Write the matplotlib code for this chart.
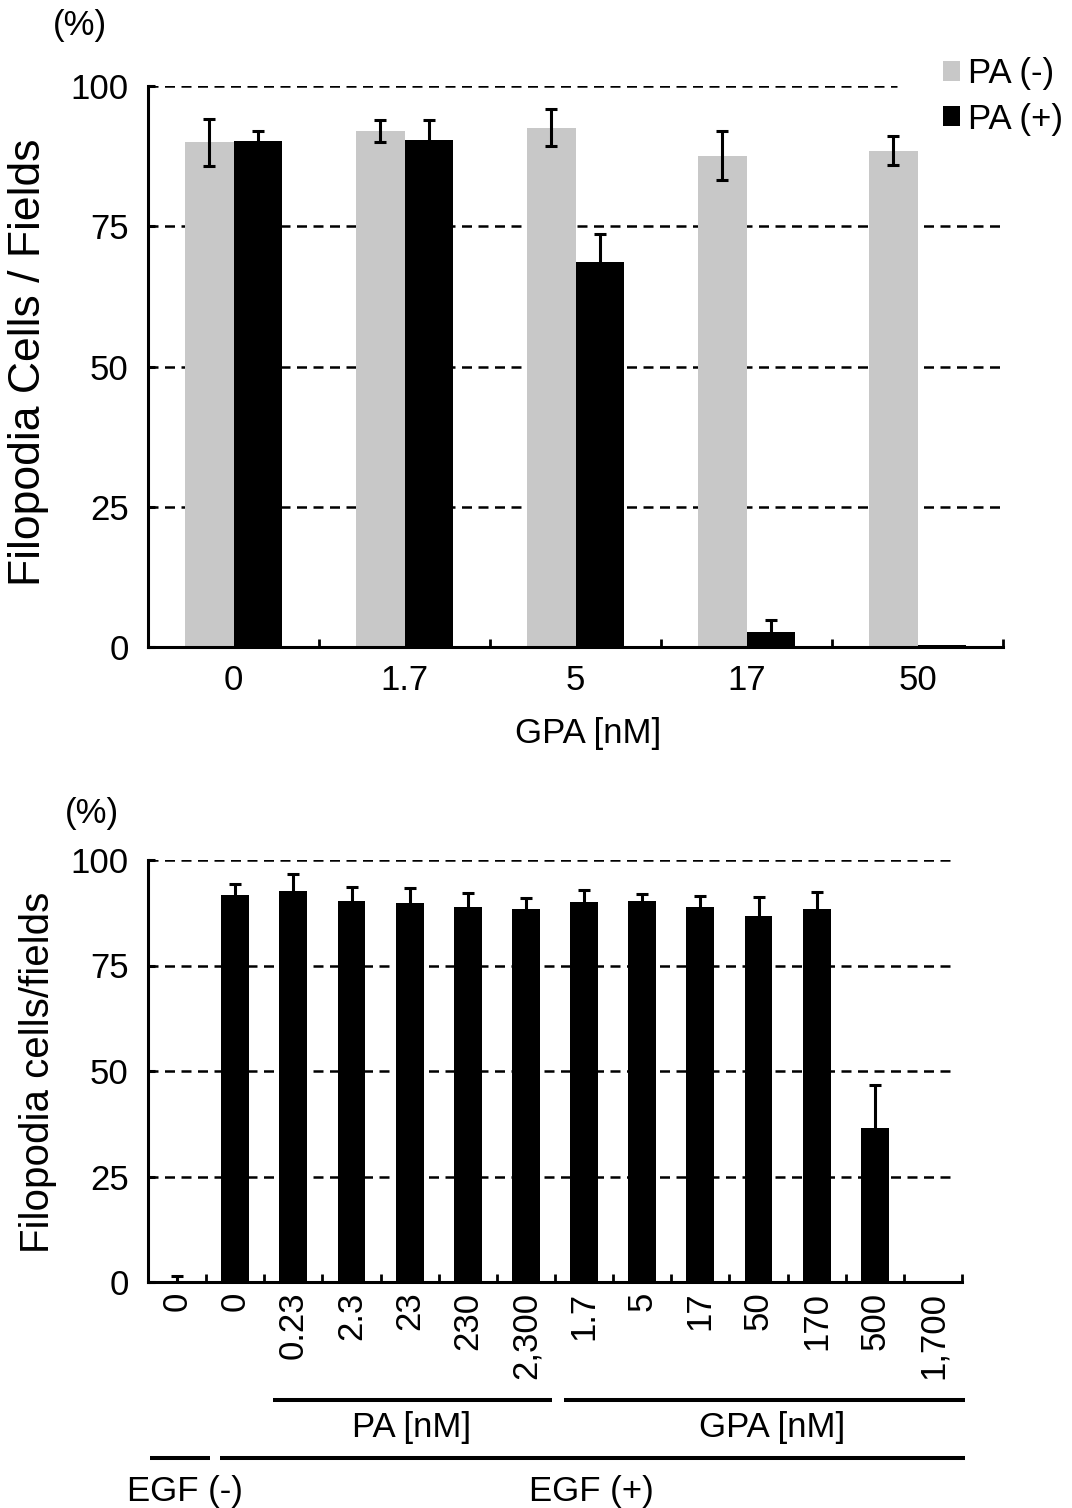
import matplotlib
matplotlib.use("Agg")
import matplotlib.pyplot as plt
from matplotlib.patches import Patch
from matplotlib.lines import Line2D

plt.rcParams['font.family'] = ['Liberation Sans', 'DejaVu Sans']

# ---------------- data ----------------
top_categories = ['0', '1.7', '5', '17', '50']
pa_minus = [90.0, 92.0, 92.6, 87.6, 88.5]
pa_minus_err = [4.2, 1.9, 3.3, 4.3, 2.5]
pa_plus = [90.2, 90.4, 68.7, 2.6, 0.3]
pa_plus_err = [1.8, 3.5, 5.0, 2.2, 0.0]

bottom_categories = ['0', '0', '0.23', '2.3', '23', '230', '2,300',
                     '1.7', '5', '17', '50', '170', '500', '1,700']
bottom_values = [0.3, 91.7, 92.7, 90.4, 89.7, 88.8, 88.3,
                 90.1, 90.4, 88.8, 86.8, 88.4, 36.5, 0.2]
bottom_err = [1.2, 2.6, 4.0, 3.2, 3.6, 3.4, 2.8,
              2.8, 1.6, 2.6, 4.5, 4.0, 10.2, 0.0]

yticks = [0, 25, 50, 75, 100]

GRAY = '#c8c8c8'
W, H = 1072, 1508
FS = 25


def fx(x):
    return x / W


def fy(y):
    return 1 - y / H


fig = plt.figure(figsize=(W / 100, H / 100), dpi=100)
fig.patch.set_facecolor('white')

GRID_STYLE = dict(color='black', linewidth=1.8, linestyle=(0, (4, 2.6)),
                  zorder=0.5)


def style_axis(ax, n, top_grid_xmax=1.0, grid_xmax=1.0):
    ax.set_ylim(0, 100)
    ax.set_xlim(-0.5, n - 0.5)
    ax.set_yticks(yticks)
    ax.set_yticklabels([str(t) for t in yticks])
    for s in ['top', 'right']:
        ax.spines[s].set_visible(False)
    for s in ['left', 'bottom']:
        ax.spines[s].set_linewidth(2.2)
    for t in yticks[1:]:
        ax.axhline(t, xmin=0, xmax=top_grid_xmax if t == 100 else grid_xmax,
                   **GRID_STYLE)
    ax.tick_params(axis='y', direction='in', length=5, width=2.2,
                   labelsize=FS, pad=14)
    ax.set_xticks([i + 0.5 for i in range(n)], minor=True)
    ax.tick_params(axis='x', which='minor', direction='in', length=6,
                   width=2.0)


# ---------------- top panel ----------------
ax1 = fig.add_axes([fx(148), fy(647), fx(1003 - 148), (647 - 86) / H])
n1 = len(top_categories)
x1 = list(range(n1))
bw = 0.286
xg = [i - bw / 2 for i in x1]
xb = [i + bw / 2 for i in x1]
ax1.bar(xg, pa_minus, width=bw, color=GRAY, zorder=2)
ax1.bar(xb, pa_plus, width=bw, color='black', zorder=2)
ax1.errorbar(xg, pa_minus, yerr=pa_minus_err, fmt='none', ecolor='black',
             elinewidth=2.2, capsize=4.3, capthick=2.2, zorder=3)
idx = [i for i in range(n1) if pa_plus_err[i] > 0]
ax1.errorbar([xb[i] for i in idx], [pa_plus[i] for i in idx],
             yerr=[pa_plus_err[i] for i in idx], fmt='none', ecolor='black',
             elinewidth=2.2, capsize=4.3, capthick=2.2, zorder=3)
style_axis(ax1, n1, top_grid_xmax=(897 - 148) / (1003 - 148))
ax1.set_xticks(x1)
ax1.set_xticklabels(top_categories)
ax1.tick_params(axis='x', which='major', length=0, labelsize=FS, pad=12)

fig.text(fx(588), fy(734), 'GPA [nM]', fontsize=FS, ha='center', va='center')
fig.text(fx(29), fy(362), 'Filopodia Cells / Fields', fontsize=32,
         rotation=90, ha='center', va='center')
fig.text(fx(80), fy(25), '(%)', fontsize=FS, ha='center', va='center')

fig.legend(handles=[Patch(facecolor=GRAY, edgecolor='none', label='PA (-)'),
                    Patch(facecolor='black', edgecolor='none', label='PA (+)')],
           loc='upper left', bbox_to_anchor=(fx(943), fy(57)),
           fontsize=FS, handlelength=0.5, handleheight=0.5,
           handletextpad=0.23, labelspacing=0.36, frameon=False,
           borderpad=0, borderaxespad=0)

# ---------------- bottom panel ----------------
ax2 = fig.add_axes([fx(148), fy(1282), fx(962 - 148), (1282 - 860) / H])
n2 = len(bottom_categories)
x2 = list(range(n2))
ax2.bar(x2, bottom_values, width=0.48, color='black', zorder=2)
idx2 = [i for i in range(n2) if bottom_err[i] > 0]
ax2.errorbar([x2[i] for i in idx2], [bottom_values[i] for i in idx2],
             yerr=[bottom_err[i] for i in idx2], fmt='none', ecolor='black',
             elinewidth=2.2, capsize=4.3, capthick=2.2, zorder=3)
style_axis(ax2, n2, grid_xmax=(955 - 148) / (962 - 148),
           top_grid_xmax=(955 - 148) / (962 - 148))
ax2.set_xticks(x2)
ax2.set_xticklabels(bottom_categories, rotation=90, ha='center', va='top')
ax2.tick_params(axis='x', which='major', length=0, labelsize=FS, pad=7)

fig.text(fx(38), fy(1072), 'Filopodia cells/fields', fontsize=29,
         rotation=90, ha='center', va='center')
fig.text(fx(92), fy(813), '(%)', fontsize=FS, ha='center', va='center')

# group brackets
for (xa, xe, yy) in [(273, 552, 1400), (564, 965, 1400),
                     (150, 210, 1458), (220, 965, 1458)]:
    fig.add_artist(Line2D([fx(xa), fx(xe)], [fy(yy), fy(yy)],
                          transform=fig.transFigure, color='black',
                          linewidth=2.9, solid_capstyle='butt'))

fig.text(fx(412), fy(1427), 'PA [nM]', fontsize=FS, ha='center', va='center')
fig.text(fx(772), fy(1427), 'GPA [nM]', fontsize=FS, ha='center', va='center')
fig.text(fx(185), fy(1492), 'EGF (-)', fontsize=FS, ha='center', va='center')
fig.text(fx(591), fy(1492), 'EGF (+)', fontsize=FS, ha='center', va='center')

fig.savefig('out.png', dpi=100, facecolor='white')
